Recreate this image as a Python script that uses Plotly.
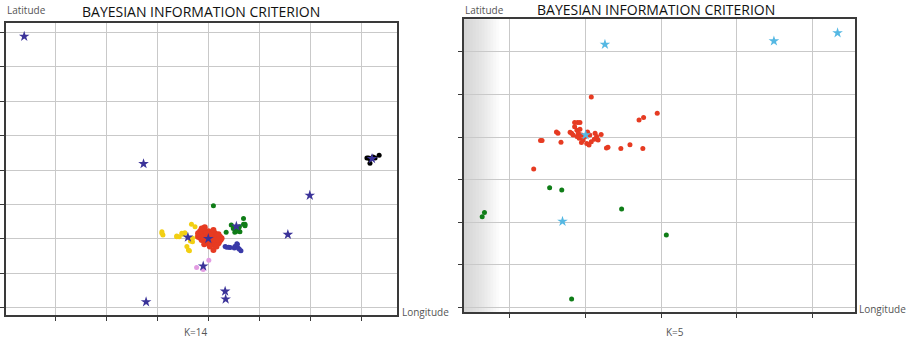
import plotly.graph_objects as go

# ---------------- Left panel (K=14) ----------------
left_star_x = [-3.61, -1.27, 1.99, 1.56, -0.40, 0.00, 0.55, -0.10, -1.22, 0.33, 0.34, 3.21]
left_star_y = [5.89, 2.18, 1.26, 0.12, 0.04, 0.00, 0.36, -0.80, -1.84, -1.53, -1.76, 2.33]

black_x = [3.11, 3.17, 3.27, 3.17, 3.35, 3.14, 3.23]
black_y = [2.35, 2.33, 2.35, 2.20, 2.43, 2.35, 2.38]

yellow_x = [-0.91, -0.89, -0.62, -0.57, -0.50, -0.46, -0.33, -0.26, -0.31, -0.35, -0.31,
            -0.42, -0.39, -0.20, -0.22, -0.62, -0.52, -0.91, -0.37, -0.33, -0.18]
yellow_y = [0.20, 0.11, 0.06, 0.06, 0.13, 0.17, 0.42, 0.35, 0.01, -0.07, -0.09,
            -0.23, -0.33, 0.13, 0.06, 0.08, 0.16, 0.16, -0.35, -0.04, 0.11]

green_x = [0.10, 0.45, 0.35, 0.49, 0.54, 0.59, 0.61, 0.69, 0.72, 0.62, 0.52, 0.56, 0.69, 0.72]
green_y = [0.96, 0.40, 0.19, 0.30, 0.25, 0.30, 0.35, 0.42, 0.38, 0.20, 0.19, 0.22, 0.59, 0.42]

blue_x = [0.33, 0.40, 0.43, 0.51, 0.52, 0.56, 0.57, 0.59, 0.64, 0.61, 0.36]
blue_y = [-0.23, -0.25, -0.26, -0.27, -0.23, -0.15, -0.16, -0.28, -0.35, -0.31, -0.25]

pink_x = [-0.23, -0.10, 0.01]
pink_y = [-0.84, -0.90, -0.63]

red_x = [-0.10, -0.07, -0.16, -0.20, -0.13, -0.06, 0.00, 0.07, 0.13, 0.20, 0.23, 0.24,
         0.20, 0.13, 0.07, 0.00, -0.06, -0.13, -0.16, -0.10, -0.03, 0.03, 0.10, 0.16,
         0.07, 0.13, -0.03, 0.02, 0.10, 0.16, 0.21, -0.20, -0.08, 0.03, 0.26, 0.10,
         -0.03, -0.13, 0.18, 0.05, -0.01, 0.12, 0.19]
red_y = [0.30, 0.33, 0.22, 0.16, 0.16, 0.20, 0.22, 0.19, 0.16, 0.13, 0.06, -0.04,
         -0.13, -0.18, -0.16, -0.13, -0.09, -0.04, 0.03, 0.06, 0.06, 0.06, 0.03, 0.01,
         -0.07, -0.09, -0.04, 0.13, -0.33, -0.23, -0.09, 0.06, -0.16, -0.23, 0.01, 0.25,
         0.16, 0.30, 0.09, 0.11, -0.02, -0.02, -0.03]

# ---------------- Right panel (K=5) ----------------
right_star_x = [0.26, 2.49, 3.33, 0.005, -0.30]
right_star_y = [2.17, 2.25, 2.44, 0.05, -1.98]

r_green_x = [-1.36, -1.33, -0.47, -0.31, 0.48, 1.07, -0.18]
r_green_y = [-1.87, -1.77, -1.19, -1.24, -1.69, -2.30, -3.80]

r_red_x = [0.08, 0.95, 0.77, 0.71, -0.68, -0.59, -0.57, -0.32, -0.38, -0.36, -0.20, -0.18,
           -0.14, -0.10, -0.07, -0.14, -0.11, -0.07, -0.09, -0.05, -0.11, -0.08, -0.05,
           -0.03, 0.03, 0.06, 0.05, 0.08, 0.13, 0.15, 0.17, 0.21, 0.12, 0.28, 0.30, 0.47,
           0.59, 0.76, 0.00, -0.16, 0.02]
r_red_y = [0.94, 0.56, 0.46, 0.40, -0.75, -0.08, -0.08, -0.12, 0.12, 0.09, 0.11, 0.09,
           0.34, 0.34, 0.34, 0.24, 0.16, 0.18, 0.09, 0.05, 0.01, -0.03, -0.13, -0.07,
           0.12, 0.05, -0.19, -0.11, 0.09, 0.01, -0.07, 0.06, -0.05, -0.26, -0.24, -0.27,
           -0.18, -0.27, 0.01, 0.05, -0.15]

TITLE = "BAYESIAN INFORMATION CRITERION"

fig = go.Figure()

def dots(x, y, color, xa, ya, size=5):
    fig.add_trace(go.Scatter(x=x, y=y, mode="markers", xaxis=xa, yaxis=ya,
                             marker=dict(color=color, size=size, line=dict(width=0)),
                             showlegend=False, hoverinfo="skip"))

def stars(x, y, color, xa, ya):
    fig.add_trace(go.Scatter(x=x, y=y, mode="markers", xaxis=xa, yaxis=ya,
                             marker=dict(color=color, size=8, symbol="star", line=dict(width=0)),
                             showlegend=False, hoverinfo="skip"))

dots(yellow_x, yellow_y, "#f2cf12", "x", "y")
dots(green_x, green_y, "#0f7d17", "x", "y")
dots(blue_x, blue_y, "#3a3aa8", "x", "y")
dots(pink_x, pink_y, "#e29be2", "x", "y")
dots(red_x, red_y, "#e63b22", "x", "y", size=6)
dots(black_x, black_y, "#000000", "x", "y")
stars(left_star_x, left_star_y, "#3b3399", "x", "y")

dots(r_red_x, r_red_y, "#e63b22", "x2", "y2")
dots(r_green_x, r_green_y, "#0f7d17", "x2", "y2")
stars(right_star_x, right_star_y, "#55b8e3", "x2", "y2")

axis_common = dict(showgrid=True, gridcolor="#c9c9c9", gridwidth=1, zeroline=False,
                   showline=True, linecolor="#3a3a3a", linewidth=1.5, mirror=True,
                   ticks="outside", ticklen=4, tickcolor="#3a3a3a",
                   showticklabels=False, dtick=1, tick0=0, fixedrange=True)

W, H = 909, 343
fig.update_layout(
    width=W, height=H, autosize=False,
    margin=dict(l=0, r=0, t=0, b=0),
    paper_bgcolor="white", plot_bgcolor="white",
    xaxis=dict(axis_common, domain=[6 / W, 397 / W], range=[-3.967, 3.70], anchor="y"),
    yaxis=dict(axis_common, domain=[28 / H, 320 / H], range=[-2.222, 6.281], anchor="x"),
    xaxis2=dict(axis_common, domain=[464 / W, 855 / W], range=[-1.60, 3.56], anchor="y2"),
    yaxis2=dict(axis_common, domain=[30.7 / H, 323.7 / H], range=[-4.11, 2.76], anchor="x2"),
)

# soft gray shading at left edge of right panel
N = 12
for i in range(N):
    fig.add_shape(type="rect", xref="x2 domain", yref="y2 domain",
                  x0=0, x1=0.09 * (1 - i / N), y0=0, y1=1,
                  fillcolor="#9a9a9a", opacity=0.045, line=dict(width=0), layer="below")

def txt(x, y, s, size, color, xanchor="center"):
    fig.add_annotation(x=x / W, y=1 - y / H, xref="paper", yref="paper", text=s,
                       showarrow=False, xanchor=xanchor, yanchor="middle",
                       font=dict(family="Open Sans", size=size, color=color))

txt(201, 12, TITLE, 14, "#111111")
txt(656, 9, TITLE, 14, "#111111")
txt(5, 10, "Latitude", 10, "#555555", "left")
txt(463, 10, "Latitude", 10, "#555555", "left")
txt(400, 312, "Longitude", 10, "#555555", "left")
txt(857, 309, "Longitude", 10, "#555555", "left")
txt(195.5, 332, "K=14", 10, "#555555")
txt(675.3, 332, "K=5", 10, "#555555")

fig.write_html("out.html", config={"displayModeBar": False},
               post_script="document.body.style.margin='0';")
